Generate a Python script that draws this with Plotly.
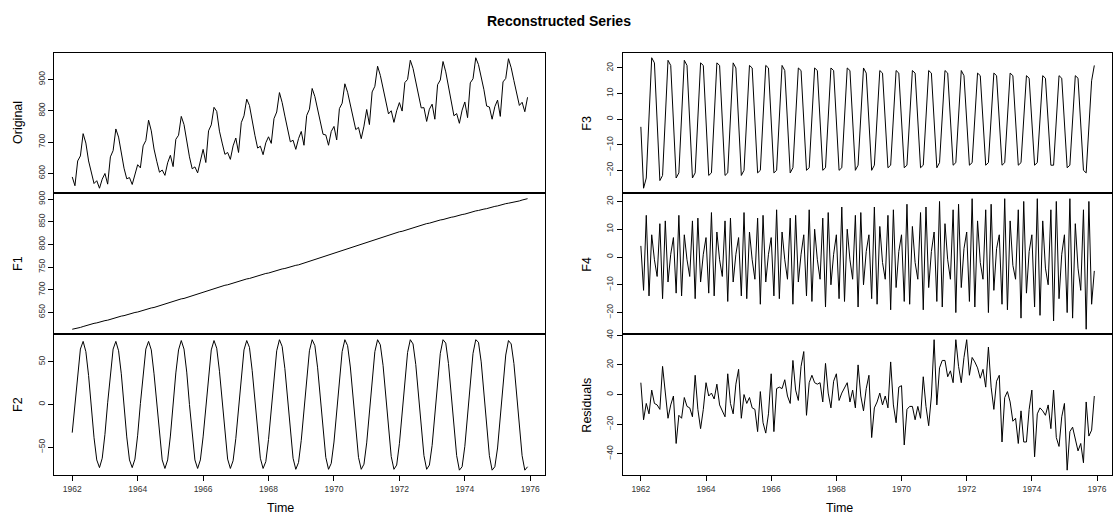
import plotly.graph_objects as go

# Monthly milk production (Original) and its SSA reconstructed components
original = [589,561,640,656,727,697,640,599,568,577,553,582,
600,566,653,673,742,716,660,617,583,587,565,598,
628,618,688,705,770,736,678,639,604,611,594,634,
658,622,709,722,782,756,702,653,615,621,602,635,
677,635,736,755,811,798,735,697,661,667,645,688,
713,667,762,784,837,817,767,722,681,687,660,698,
717,696,775,796,858,826,783,740,701,706,677,711,
734,690,785,805,871,845,801,764,725,723,690,734,
750,707,807,824,886,859,819,783,740,747,711,751,
804,756,860,878,942,913,869,834,790,800,763,800,
826,799,890,900,961,935,894,855,809,810,766,805,
821,773,883,898,957,924,881,837,784,791,760,802,
828,778,889,902,969,947,908,867,815,812,773,813,
834,782,892,903,966,937,896,858,817,827,797,843]

f1 = [613,614,615,617,619,621,622,624,626,627,629,630,632,633,635,637,638,640,642,643,645,646,648,650,
651,653,655,656,658,660,661,663,665,667,669,670,672,674,676,678,680,681,683,685,687,689,691,693,
695,697,698,700,702,704,706,708,710,711,713,715,717,719,720,722,724,725,727,729,731,732,734,736,
737,739,741,742,744,746,747,749,750,752,754,755,757,759,761,763,765,767,769,770,772,774,776,778,
780,782,784,786,788,790,792,794,796,798,800,802,804,806,808,810,812,814,816,818,820,822,824,826,
828,829,831,833,835,837,839,840,842,844,846,847,849,850,852,854,855,857,858,860,861,863,864,866,
867,869,871,872,874,875,877,878,879,881,882,884,885,887,888,890,891,892,894,895,896,898,899,901]

f2 = [-33,3,39,65,74,62,34,-3,-39,-65,-74,-63,-35,2,38,65,74,63,36,-2,-38,-65,-74,-64,
-36,1,38,65,74,64,36,-1,-38,-65,-75,-65,-37,0,37,64,75,65,38,0,-37,-65,-75,-65,
-38,-1,36,64,75,66,39,2,-36,-64,-75,-66,-40,-3,35,64,75,67,40,3,-35,-63,-75,-67,
-41,-4,34,63,76,68,42,5,-33,-63,-76,-68,-42,-5,33,63,76,69,43,6,-32,-62,-76,-69,
-44,-7,32,62,76,69,44,7,-31,-62,-76,-70,-45,-8,31,62,76,70,46,9,-30,-61,-76,-71,
-46,-10,30,61,76,71,47,11,-29,-60,-76,-71,-48,-11,28,60,76,72,48,12,-28,-60,-77,-73,
-49,-13,27,60,76,73,50,13,-27,-60,-77,-73,-51,-15,25,58,75,71,48,12,-28,-60,-77,-73]

f3 = [-3,-27,-23,1,24,22,-3,-24,-22,2,23,21,-2,-23,-21,2,23,21,-2,-23,-21,2,22,21,
-1,-22,-21,1,22,21,-2,-22,-21,1,22,20,-1,-22,-20,1,21,20,-1,-21,-20,1,21,20,
-1,-21,-20,1,21,19,-1,-21,-19,1,20,19,-1,-20,-19,1,20,19,-1,-20,-19,1,20,19,
-1,-20,-19,1,20,19,-1,-20,-18,1,20,18,-1,-20,-18,1,19,18,-1,-19,-18,1,19,18,
-1,-19,-18,1,19,18,-1,-19,-18,1,19,18,-1,-19,-17,1,19,18,-1,-18,-17,1,19,17,
-1,-18,-17,1,18,17,-1,-18,-17,1,18,17,-1,-18,-17,1,18,17,-1,-18,-17,1,17,16,
-1,-18,-17,0,17,16,-1,-18,-18,0,17,16,-2,-19,-18,-1,17,16,-2,-20,-21,-3,15,21]

f4 = [4,-12,15,-14,8,-1,-7,12,-15,13,-9,1,7,-13,15,-14,8,-1,-7,13,-15,14,-9,1,
7,-13,16,-14,9,-1,-7,13,-16,14,-9,1,7,-14,16,-15,9,-1,-8,14,-17,15,-9,1,
7,-14,17,-15,9,-1,-8,14,-17,15,-9,1,8,-14,17,-16,10,-1,-8,14,-18,16,-10,1,
8,-15,18,-16,10,-1,-8,15,-18,16,-10,2,8,-15,18,-17,11,-2,-8,15,-19,17,-11,2,
8,-16,19,-17,11,-2,-8,16,-19,18,-11,2,9,-16,20,-18,12,-1,-8,17,-20,19,-11,3,
9,-16,21,-18,13,-2,-8,17,-20,19,-12,3,8,-17,21,-19,13,-3,-8,17,-22,20,-13,2,
8,-18,21,-21,13,-4,-10,17,-23,20,-15,1,8,-20,21,-22,12,-4,-12,17,-26,20,-17,-5]

residuals = [8,-17,-6,-13,3,-6,-7,-10,19,0,-16,-7,-1,-33,-14,-16,-2,-8,-9,-15,13,-10,-23,-10,
8,-1,1,-3,7,-7,-11,-15,14,-6,-13,7,17,-16,0,-6,
-2,-9,-10,-25,2,-19,-26,-13,14,-25,4,5,4,10,-1,-6,23,3,-4,19,29,-14,8,13,8,7,8,-5,21,1,
-9,9,14,-4,1,5,8,-5,3,-9,20,-1,-11,4,13,-29,-9,-5,1,-7,-1,-9,22,-7,-19,5,6,-34,-10,-8,
-8,-17,-8,-16,12,-8,-21,-1,37,-7,18,23,23,12,16,8,37,19,8,25,37,13,25,22,18,11,17,5,
32,5,-10,9,13,-32,-2,2,-5,-18,-16,-33,-11,-32,-32,-10,3,-42,-13,-9,-11,-14,-7,-23,3,-29,
-35,-15,-6,-51,-25,-22,-29,-38,-33,-46,-5,-28,-24,-1]

panel_names = ["Original", "F1", "F2", "F3", "F4", "Residuals"]
panel_series = [original, f1, f2, f3, f4, residuals]
panel_ticks = [[600,700,800,900], [650,700,750,800,850,900], [-50,0,50],
               [-20,-10,0,10,20], [-20,-10,0,10,20], [-40,-20,0,20,40]]
x_ticks = [1962,1964,1966,1968,1970,1972,1974,1976]
start_year = 1962

W, H = 1118, 515
cols = [(54, 545), (622.7, 1111.7)]
rows = [(48, 190.3), (190.3, 332.7), (332.7, 475)]
FONT = "Liberation Sans, Arial, sans-serif"

fig = go.Figure()
layout = dict(width=W, height=H, margin=dict(l=0, r=0, t=0, b=0), paper_bgcolor="white",
              plot_bgcolor="white", showlegend=False, font=dict(family=FONT, color="black"))
annotations = []
for k, (name, vals, tv) in enumerate(zip(panel_names, panel_series, panel_ticks)):
    c, r = k // 3, k % 3
    sfx = "" if k == 0 else str(k + 1)
    t = [start_year + m / 12 for m in range(len(vals))]
    fig.add_trace(go.Scatter(x=t, y=vals, mode="lines", line=dict(color="black", width=1),
                             xaxis="x" + sfx, yaxis="y" + sfx, hoverinfo="skip"))
    lo, hi = min(vals), max(vals)
    pad = 0.04 * (hi - lo)
    x0, x1 = cols[c]
    y0, y1 = rows[r]
    bottom = (r == 2)
    layout["xaxis" + sfx] = dict(domain=[x0 / W, x1 / W], anchor="y" + sfx, range=[1961.443, 1976.45],
        showline=True, mirror=True, linecolor="black", linewidth=1, showgrid=False, zeroline=False,
        ticks="outside" if bottom else "", ticklen=5, tickcolor="black",
        tickvals=x_ticks, showticklabels=bottom, tickfont=dict(size=8.5, family=FONT, color="#333"))
    layout["yaxis" + sfx] = dict(domain=[1 - y1 / H, 1 - y0 / H], anchor="x" + sfx,
        range=[lo - pad, hi + pad],
        showline=True, mirror=True, linecolor="black", linewidth=1, showgrid=False, zeroline=False,
        ticks="outside", ticklen=5, tickcolor="black", tickvals=tv, tickangle=-90,
        tickfont=dict(size=8.5, family=FONT, color="#333"))
    annotations.append(dict(text=name, x=(x0 - 36) / W, y=1 - (y0 + y1) / 2 / H, xref="paper",
        yref="paper", showarrow=False, textangle=-90, font=dict(size=12.5, family=FONT),
        xanchor="center", yanchor="middle"))
annotations.append(dict(text="<b>Reconstructed Series</b>", x=559 / W, y=1 - 16 / H, xref="paper",
    yref="paper", showarrow=False, font=dict(size=14, family=FONT), xanchor="center", yanchor="middle"))
for cx in (280, 839):
    annotations.append(dict(text="Time", x=cx / W, y=1 - 508 / H, xref="paper", yref="paper",
        showarrow=False, font=dict(size=12.5, family=FONT), xanchor="center", yanchor="middle"))
layout["annotations"] = annotations
fig.update_layout(**layout)
fig.write_html("out.html")
